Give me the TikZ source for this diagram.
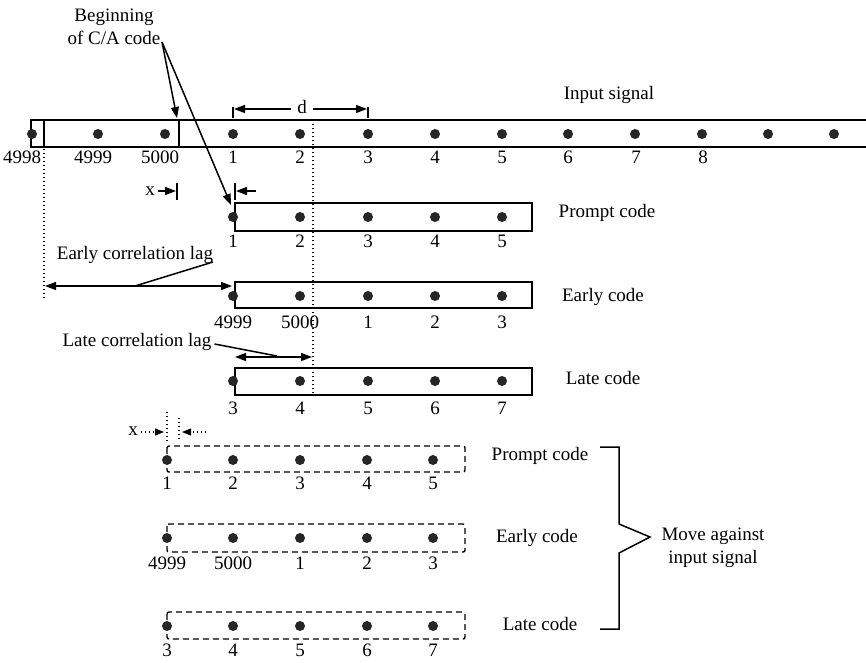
\documentclass[tikz,border=0pt]{standalone}
\usepackage{fontspec}
\setmainfont{Liberation Serif}
\usetikzlibrary{arrows.meta}
\begin{document}
\begin{tikzpicture}[x=1pt,y=-1pt,
  dotn/.style={circle,fill=black!85,inner sep=0pt,minimum size=10pt},
  lbl/.style={font=\fontsize{19}{23}\selectfont,inner sep=0pt},
  boxl/.style={line width=1.6pt},
  dbox/.style={line width=1.4pt,dash pattern=on 6pt off 4pt,rounded corners=2pt},
  dotl/.style={line width=1.2pt,dash pattern=on 1.3pt off 2.7pt},
  arr/.style={line width=1.5pt,-{Triangle[length=11pt,width=8pt]}},
  darr/.style={line width=1.5pt,{Triangle[length=11pt,width=8pt]}-{Triangle[length=11pt,width=8pt]}},
  tick/.style={line width=1.5pt}]
\useasboundingbox (0,0) rectangle (866,662);

% ---------- input signal ----------
\draw[boxl] (866,120) -- (31,120) -- (31,147) -- (866,147);
\draw[boxl] (44,120) -- (44,147);
\draw[boxl] (179,120) -- (179,147);
\foreach \i/\x in {0/32,1/98,2/165,3/233,4/300,5/368,6/435,7/502,8/568,9/635,10/702,11/768,12/834}
  \node[dotn] (s\i) at (\x,134) {};
\foreach \i/\x/\t in {0/22/4998,1/93/4999,2/160/5000,3/233/1,4/300/2,5/368/3,6/435/4,7/502/5,8/568/6,9/636/7,10/703/8}
  \node[lbl] (sl\i) at (\x,157) {\t};
\node[lbl] (insig) at (609,95) {Input signal};

% dotted guide lines
\draw[dotl] (313,120) -- (313,395);
\draw[dotl] (44,149) -- (44,298);

% d dimension
\draw[tick] (233,107) -- (233,118);
\draw[tick] (368,107) -- (368,118);
\node[lbl] (dlab) at (302,107) {d};
\coordinate (dl) at (234,109);
\coordinate (dr) at (367,109);
\draw[arr] (dlab.west) ++(-6,2) -- (dl);
\draw[arr] (dlab.east) ++(6,2) -- (dr);

% Beginning of C/A code
\node[lbl,align=center] (beg) at (114,27) {Beginning\\of C/A code};
\coordinate (bsrc) at (162,42);
\coordinate (bt1) at (177,118);
\coordinate (bt2) at (231,205);
\draw[arr] (bsrc) -- (bt1);
\draw[arr] (bsrc) -- (bt2);

% x marker (solid)
\node[lbl] (x1) at (150,191) {x};
\coordinate (x1t) at (176,191);
\draw[tick] (177,183) -- (177,200);
\draw[tick] (235,183) -- (235,200);
\coordinate (x1s) at (256,191);
\coordinate (x1e) at (236,191);
\draw[arr] (x1.east) ++(3,0) -- (x1t);
\draw[arr] (x1s) -- (x1e);

% ---------- Prompt code (solid) ----------
\draw[boxl] (235,203) rectangle (532,231);
\foreach \i/\x/\t in {1/233/1,2/300/2,3/368/3,4/435/4,5/502/5} {
  \node[dotn] (p\i) at (\x,217) {};
  \node[lbl] (pl\i) at (\x,241) {\t};
}
\node[lbl] (ptxt) at (607,213) {Prompt code};

% Early correlation lag
\node[lbl] (elag) at (135,255) {Early correlation lag};
\coordinate (ela) at (45,286);
\coordinate (elb) at (232,286);
\coordinate (elm) at (135,286);
\draw[darr] (ela) -- (elb);
\draw[line width=1.5pt] (213,262) -- (elm);

% ---------- Early code (solid) ----------
\draw[boxl] (235,282) rectangle (532,308);
\foreach \i/\x/\t in {1/233/4999,2/300/5000,3/368/1,4/435/2,5/502/3} {
  \node[dotn] (e\i) at (\x,296) {};
  \node[lbl] (el\i) at (\x,322) {\t};
}
\node[lbl] (etxt) at (603,297) {Early code};

% Late correlation lag
\node[lbl] (llag) at (137,342) {Late correlation lag};
\coordinate (lla) at (235,357);
\coordinate (llb) at (312,357);
\coordinate (llm) at (277,356);
\draw[darr] (lla) -- (llb);
\draw[line width=1.5pt] (llag.east) ++(3,2) -- (llm);

% ---------- Late code (solid) ----------
\draw[boxl] (235,368) rectangle (532,395);
\foreach \i/\x/\t in {1/233/3,2/300/4,3/368/5,4/435/6,5/502/7} {
  \node[dotn] (l\i) at (\x,381) {};
  \node[lbl] (ll\i) at (\x,408) {\t};
}
\node[lbl] (ltxt) at (603,378) {Late code};

% ---------- dashed section ----------
\node[lbl] (x2) at (133,431) {x};
\draw[dotl] (167,412) -- (167,441);
\draw[dotl] (179,418) -- (179,441);
\coordinate (x2a) at (164,432);
\coordinate (x2s) at (206,432);
\coordinate (x2b) at (182,432);
\draw[dotl,-{Triangle[length=9pt,width=7pt]}] (x2.east) ++(3,1) -- (x2a);
\draw[dotl,-{Triangle[length=9pt,width=7pt]}] (x2s) -- (x2b);

\draw[dbox] (167,446) rectangle (465,472);
\foreach \i/\x/\t in {1/167/1,2/233/2,3/300/3,4/367/4,5/433/5} {
  \node[dotn] (dp\i) at (\x,460) {};
  \node[lbl] (dpl\i) at (\x,483) {\t};
}
\draw[dbox] (167,524) rectangle (465,552);
\foreach \i/\x/\t in {1/167/4999,2/233/5000,3/300/1,4/367/2,5/433/3} {
  \node[dotn] (de\i) at (\x,538) {};
  \node[lbl] (del\i) at (\x,563) {\t};
}
\draw[dbox] (167,612) rectangle (465,639);
\foreach \i/\x/\t in {1/167/3,2/233/4,3/300/5,4/367/6,5/433/7} {
  \node[dotn] (dl\i) at (\x,626) {};
  \node[lbl] (dll\i) at (\x,650) {\t};
}
\node[lbl] (dptxt) at (540,456) {Prompt code};
\node[lbl] (detxt) at (537,538) {Early code};
\node[lbl] (dltxt) at (540,624) {Late code};

% bracket
\node[lbl,align=center] (move) at (713,548) {Move against\\input signal};
\draw[line width=1.5pt] (600,447) -- (619,447) -- (619,524) -- (650,537) -- (619,553) -- (619,629) -- (600,629);
\end{tikzpicture}
\end{document}
